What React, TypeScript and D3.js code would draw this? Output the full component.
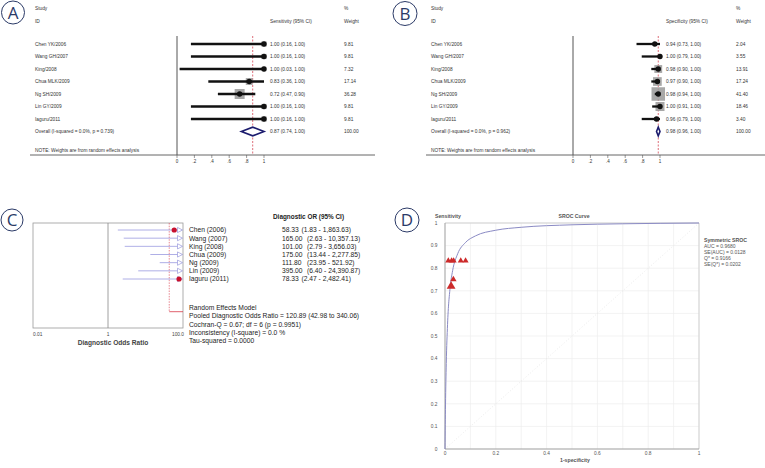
import React from 'react'
import * as d3 from 'd3'

// ---- panel A / B : forest plots ----
const studyIds = ['Chen YK/2006', 'Wang GH/2007', 'King/2008', 'Chua MLK/2009', 'Ng SH/2009', 'Lin GY/2009', 'Iaguru/2011']
const sens = [1.0, 1.0, 1.0, 0.83, 0.72, 1.0, 1.0]
const sensLo = [0.16, 0.16, 0.03, 0.36, 0.47, 0.16, 0.16]
const sensHi = [1.0, 1.0, 1.0, 1.0, 0.9, 1.0, 1.0]
const sensWeight = [9.81, 9.81, 7.32, 17.14, 36.28, 9.81, 9.81]
const sensOverall = { est: 0.87, lo: 0.74, hi: 1.0, label: 'Overall  (I-squared = 0.0%, p = 0.739)' }

const spec = [0.94, 1.0, 0.98, 0.97, 0.98, 1.0, 0.96]
const specLo = [0.73, 0.79, 0.9, 0.9, 0.94, 0.91, 0.79]
const specHi = [1.0, 1.0, 1.0, 1.0, 1.0, 1.0, 1.0]
const specWeight = [2.04, 3.55, 13.91, 17.24, 41.4, 18.46, 3.4]
const specOverall = { est: 0.98, lo: 0.96, hi: 1.0, label: 'Overall  (I-squared = 0.0%, p = 0.962)' }

const forestTicks = [0, 0.2, 0.4, 0.6, 0.8, 1]

// ---- panel C : diagnostic odds ratio ----
const orStudies = ['Chen (2006)', 'Wang (2007)', 'King (2008)', 'Chua (2009)', 'Ng (2009)', 'Lin (2009)', 'Iaguru (2011)']
const orEst = [58.33, 165.0, 101.0, 175.0, 111.8, 395.0, 78.33]
const orLo = [1.83, 2.63, 2.79, 13.44, 23.95, 6.4, 2.47]
const orHi = [1863.63, 10357.13, 3656.03, 2277.85, 521.92, 24390.87, 2482.41]
const orPooled = { est: 120.89, lo: 42.98, hi: 340.06 }
const orTicks = ['0.01', '1', '100.0']
const orTickValues = [0.01, 1, 100]
const orSummary = [
  'Random Effects Model',
  'Pooled Diagnostic Odds Ratio = 120.89 (42.98 to 340.06)',
  'Cochran-Q = 0.67; df =  6 (p = 0.9951)',
  'Inconsistency (I-square) = 0.0 %',
  'Tau-squared = 0.0000',
]

// ---- panel D : SROC ----
const pointFpr = [0.013, 0.026, 0.034, 0.062, 0.081, 0.033, 0.024]
const pointTpr = [0.833, 0.833, 0.833, 0.833, 0.833, 0.75, 0.72]
const pointSize = [16, 16, 16, 16, 16, 18, 34]
const srocFpr = [0, 0.0005, 0.001, 0.002, 0.005, 0.01, 0.02, 0.03, 0.05, 0.08, 0.12, 0.2, 0.3, 0.5, 0.7, 1.0]
const srocTpr = [0.0, 0.057, 0.108, 0.195, 0.378, 0.55, 0.712, 0.789, 0.864, 0.913, 0.943, 0.968, 0.981, 0.992, 0.9965, 1.0]
const srocLegend = ['AUC = 0.9680', 'SE(AUC) = 0.0128', 'Q* = 0.9166', 'SE(Q*) = 0.0202']
const tenths = d3.range(0, 11).map(i => i / 10)

const FONT = 'Liberation Sans, Arial, Helvetica, sans-serif'
const NAVY = '#2b3a67'

const PanelLabel = ({ cx, cy, r, letter }: { cx: number; cy: number; r: number; letter: string }) => (
  <g>
    <circle cx={cx} cy={cy} r={r} fill="white" stroke={NAVY} strokeWidth={1} />
    <text x={cx} y={cy + 6} textAnchor="middle" fontFamily="Open Sans, DejaVu Sans, sans-serif" fontSize={17} fill={NAVY}>
      {letter}
    </text>
  </g>
)

type ForestProps = {
  dx: number
  header: string
  est: number[]
  lo: number[]
  hi: number[]
  weight: number[]
  overall: { est: number; lo: number; hi: number; label: string }
  boxK: number
  weightX: number
}

const Forest = ({ dx, header, est, lo, hi, weight, overall, boxK, weightX }: ForestProps) => {
  const x = d3.scaleLinear().domain([0, 1]).range([177, 264])
  const y = d3.scaleLinear().domain([0, 7]).range([44, 131.5])
  const fs = 4.8
  const tc = '#333'
  const tickFmt = (d: number) => (d === 0 ? '0' : d === 1 ? '1' : d3.format('.1f')(d).replace(/^0/, ''))
  const ov = 7
  return (
    <g transform={`translate(${dx},0)`} fontFamily={FONT} fontSize={fs} fill={tc}>
      <text x={35} y={10}>Study</text>
      <text x={35} y={22.5}>ID</text>
      <text x={270} y={22.5}>{header}</text>
      <text x={weightX} y={10}>%</text>
      <text x={weightX} y={22.5}>Weight</text>

      {/* axis */}
      <line x1={x(0)} x2={x(0)} y1={36} y2={155} stroke="#555" strokeWidth={1} />
      <line x1={30} x2={375} y1={155} y2={155} stroke="#555" strokeWidth={0.9} />
      {forestTicks.map(t => (
        <g key={t}>
          <line x1={x(t)} x2={x(t)} y1={155} y2={158} stroke="#555" strokeWidth={0.6} />
          <text x={x(t)} y={162.5} textAnchor="middle" fontSize={4.5}>{tickFmt(t)}</text>
        </g>
      ))}

      {/* pooled dashed */}
      <line x1={x(overall.est)} x2={x(overall.est)} y1={36} y2={155} stroke="#d03040" strokeWidth={0.7} strokeDasharray="2,1.5" />

      {studyIds.map((s, i) => {
        const side = boxK * Math.sqrt(weight[i])
        return (
          <g key={s}>
            <text x={35} y={y(i) + 1.7}>{s}</text>
            <rect x={x(est[i]) - side / 2} y={y(i) - side / 2} width={side} height={side} fill="#999" opacity={0.85} />
            <line x1={x(lo[i])} x2={x(hi[i])} y1={y(i)} y2={y(i)} stroke="#111" strokeWidth={2.3} />
            <circle cx={x(est[i])} cy={y(i)} r={2.7} fill="#111" />
            <text x={270} y={y(i) + 1.7}>{`${est[i].toFixed(2)} (${lo[i].toFixed(2)}, ${hi[i].toFixed(2)})`}</text>
            <text x={weightX} y={y(i) + 1.7}>{weight[i].toFixed(2)}</text>
          </g>
        )
      })}

      <text x={35} y={y(ov) + 1.7}>{overall.label}</text>
      <path
        d={`M${x(overall.lo)},${y(ov)}L${x(overall.est)},${y(ov) - 4.3}L${x(overall.hi)},${y(ov)}L${x(overall.est)},${y(ov) + 4.3}Z`}
        fill="white"
        stroke="#1c1c6e"
        strokeWidth={1.6}
      />
      <text x={270} y={y(ov) + 1.7}>{`${overall.est.toFixed(2)} (${overall.lo.toFixed(2)}, ${overall.hi.toFixed(2)})`}</text>
      <text x={weightX} y={y(ov) + 1.7}>100.00</text>
      <text x={35} y={151.7}>NOTE: Weights are from random effects analysis</text>
    </g>
  )
}

const OddsRatio = () => {
  const x = d3.scaleLog().domain([0.01, 100]).range([33, 183])
  const y = d3.scaleLinear().domain([0, 6]).range([230, 279])
  const top = 223
  const bottom = 328
  const fmt = d3.format(',.2f')
  const lineC = '#9a9ae0'
  const red = '#c8102e'
  const poolY = 311.7
  const tickAnchor = ['start', 'middle', 'end']
  const tickShift = [0, 0, 1]
  return (
    <g fontFamily={FONT}>
      <defs>
        <clipPath id="clipC">
          <rect x={0} y={200} width={367} height={160} />
        </clipPath>
      </defs>
      <rect x={33} y={top} width={150} height={bottom - top} fill="white" stroke="#999" strokeWidth={0.8} />
      <line x1={x(1)} x2={x(1)} y1={top} y2={bottom} stroke="#888" strokeWidth={0.8} />

      <line x1={x(orPooled.lo)} x2={x(orPooled.lo)} y1={top} y2={poolY} stroke="#d83848" strokeWidth={0.6} strokeDasharray="1.5,1.2" />
      <line x1={x(orPooled.lo)} x2={183} y1={poolY} y2={poolY} stroke="#d83848" strokeWidth={0.8} />

      {orStudies.map((s, i) => (
        <g key={s}>
          <line x1={x(orLo[i])} x2={177.5} y1={y(i)} y2={y(i)} stroke={lineC} strokeWidth={0.8} />
          <path d={`M177.5,${y(i) - 2.6}L182.5,${y(i)}L177.5,${y(i) + 2.6}Z`} fill="white" stroke="#8585d5" strokeWidth={0.6} />
          {orEst[i] < 100 && <circle cx={x(orEst[i])} cy={y(i)} r={2.6} fill={red} />}
        </g>
      ))}

      <g fontSize={4.8} fill="#444">
        {orTicks.map((t, i) => (
          <text key={t} x={x(orTickValues[i]) + tickShift[i]} y={335.5} textAnchor={tickAnchor[i] as any}>{t}</text>
        ))}
      </g>
      <text x={113} y={344.5} textAnchor="middle" fontSize={6.6} fontWeight="bold" fill="#444">Diagnostic Odds Ratio</text>

      <g clipPath="url(#clipC)" fontSize={6.7} fill="#222">
        <text x={273} y={219.2} fontWeight="bold" fontSize={6.4}>Diagnostic OR (95% CI)</text>
        {orStudies.map((s, i) => (
          <g key={s}>
            <text x={189} y={y(i) + 2.4}>{s}</text>
            <text x={282} y={y(i) + 2.4}>{orEst[i].toFixed(2)}</text>
            <text x={orEst[i] >= 100 ? 307 : 301.5} y={y(i) + 2.4}>{`(${fmt(orLo[i])} - ${fmt(orHi[i])})`}</text>
          </g>
        ))}
        {orSummary.map((t, i) => (
          <text key={t} x={189} y={307.7 + i * 8.25 + 2.4}>{t}</text>
        ))}
      </g>
    </g>
  )
}

const Sroc = () => {
  const x = d3.scaleLinear().domain([0, 1]).range([445, 699])
  const y = d3.scaleLinear().domain([0, 1]).range([449, 223])
  const curve = d3
    .line<number>()
    .x((_, i) => x(srocFpr[i]))
    .y((_, i) => y(srocTpr[i]))
    .curve(d3.curveMonotoneX)(srocFpr)
  const tri = d3.symbol().type(d3.symbolTriangle)
  const tc = '#555'
  return (
    <g fontFamily={FONT}>
      {tenths.map(t => (
        <g key={t}>
          <line x1={x(t)} x2={x(t)} y1={y(0)} y2={y(1)} stroke="#eeeeee" strokeWidth={0.7} />
          <line x1={x(0)} x2={x(1)} y1={y(t)} y2={y(t)} stroke="#eeeeee" strokeWidth={0.7} />
        </g>
      ))}
      <line x1={x(0)} y1={y(0)} x2={x(1)} y2={y(1)} stroke="#e2e2e2" strokeWidth={0.7} strokeDasharray="1,2" />
      <line x1={x(0)} x2={x(1)} y1={y(1)} y2={y(1)} stroke="#c8c8c8" strokeWidth={0.8} />
      <line x1={x(1)} x2={x(1)} y1={y(0)} y2={y(1)} stroke="#c8c8c8" strokeWidth={0.8} />
      <line x1={x(0)} x2={x(0)} y1={y(0)} y2={y(1)} stroke="#999" strokeWidth={0.9} />
      <line x1={x(0)} x2={x(1)} y1={y(0)} y2={y(0)} stroke="#999" strokeWidth={0.9} />

      <path d={curve || ''} fill="none" stroke="#8a8ac4" strokeWidth={1} />

      {pointFpr.map((f, i) => (
        <path key={i} d={tri.size(pointSize[i])() || ''} transform={`translate(${x(f)},${y(pointTpr[i])})`} fill="#cc2a2a" />
      ))}

      <g fontSize={4.8} fill={tc}>
        {tenths.map(t => (
          <text key={t} x={437.5} y={y(t) + 1.7} textAnchor="end">{t === 0 ? '0' : t === 1 ? '1' : t.toFixed(1)}</text>
        ))}
        {tenths.filter((_, i) => i % 2 === 0).map(t => (
          <text key={t} x={x(t)} y={455} textAnchor="middle">{t === 0 ? '0' : t === 1 ? '1' : t.toFixed(1)}</text>
        ))}
      </g>
      <g fontSize={5.2} fontWeight="bold" fill={tc}>
        <text x={435} y={218}>Sensitivity</text>
        <text x={574} y={218} textAnchor="middle">SROC Curve</text>
        <text x={575} y={462} textAnchor="middle">1-specificity</text>
        <text x={704} y={241.8}>Symmetric SROC</text>
      </g>
      <g fontSize={5} fill={tc}>
        {srocLegend.map((t, i) => (
          <text key={t} x={704} y={247.6 + i * 6.2}>{t}</text>
        ))}
      </g>
    </g>
  )
}

export default function App() {
  return (
    <div style={{ position: 'absolute', left: 0, top: 0 }}>
      <svg width={765} height={468} style={{ display: 'block', background: 'white' }}>
        <rect width={765} height={468} fill="white" />
        <Forest dx={0} header="Sensitivity (95% CI)" est={sens} lo={sensLo} hi={sensHi} weight={sensWeight} overall={sensOverall} boxK={1.66} weightX={344} />
        <Forest dx={396} header="Specificity (95% CI)" est={spec} lo={specLo} hi={specHi} weight={specWeight} overall={specOverall} boxK={2.1} weightX={340} />
        <OddsRatio />
        <Sroc />
        <PanelLabel cx={13} cy={12.5} r={11.5} letter="A" />
        <PanelLabel cx={405} cy={13.5} r={12} letter="B" />
        <PanelLabel cx={12} cy={220} r={11} letter="C" />
        <PanelLabel cx={407} cy={220} r={12} letter="D" />
      </svg>
    </div>
  )
}
